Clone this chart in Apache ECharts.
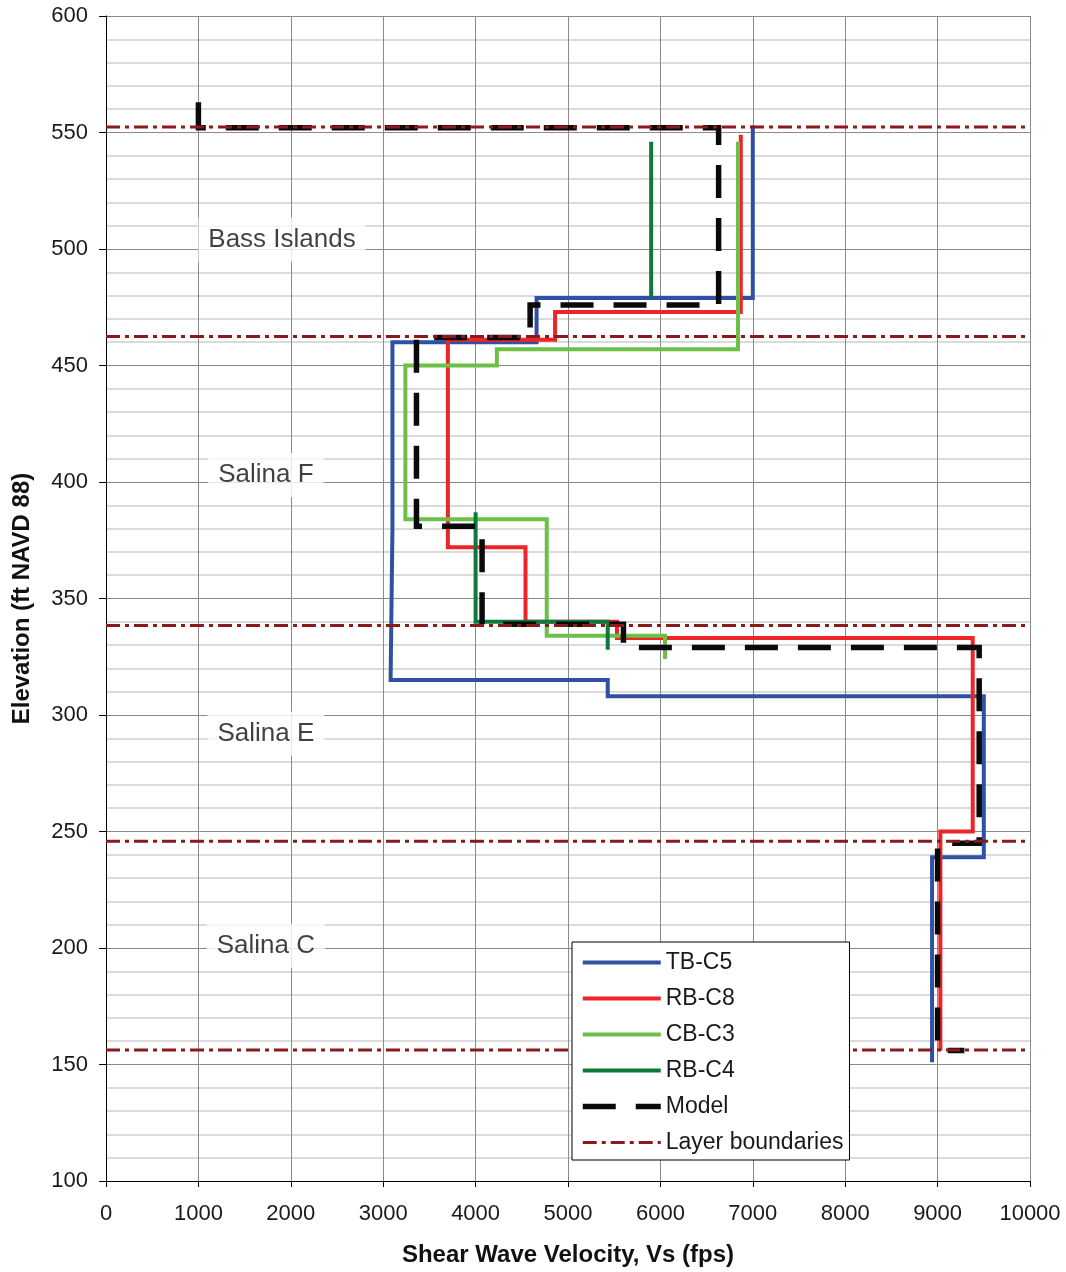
<!DOCTYPE html>
<html>
<head>
<meta charset="utf-8">
<script src="https://cdn.jsdelivr.net/npm/echarts@6/dist/echarts.min.js"></script>
<style>
  html, body { margin: 0; padding: 0; background: #fff; }
  #chart { width: 1066px; height: 1272px; }
</style>
</head>
<body>
<div id="chart"></div>
<script>
// Shear wave velocity profiles: [Vs (fps), elevation (ft NAVD 88)] vertices of each step profile
const tbC5 = [[7000,553],[7000,479],[4660,479],[4660,460],[3100,460],[3100,380],[3080,380],[3080,315],
              [5430,315],[5430,308],[9500,308],[9500,239],[8940,239],[8940,151]];
const rbC8 = [[6870,549],[6870,473],[4860,473],[4860,461],[3700,461],[3700,372],[4540,372],[4540,340],
              [5530,340],[5530,333],[9380,333],[9380,250],[9030,250],[9030,156]];
const cbC3 = [[6840,546],[6840,457],[4230,457],[4230,450],[3240,450],[3240,384],[4770,384],[4770,334],
              [6050,334],[6050,324]];
const rbC4Upper = [[5900,546],[5900,479]];
const rbC4Lower = [[4000,387],[4000,340],[5430,340],[5430,328]];
const model = [[1000,563],[1000,552],[6630,552],[6630,476],[4590,476],[4590,462],[3360,462],[3360,381],
               [4070,381],[4070,339],[5600,339],[5600,329],[9450,329],[9450,245],[9000,245],[9000,156],[9290,156]];

// Elevations of the geologic layer boundaries
const layerBoundaries = [552.4, 462.4, 338.4, 245.8, 156.2];

// Formation names and where they are written
const formations = [
  { name: 'Bass Islands', vs: 1905, elev: 504 },
  { name: 'Salina F',     vs: 1730, elev: 403 },
  { name: 'Salina E',     vs: 1730, elev: 292 },
  { name: 'Salina C',     vs: 1730, elev: 201 }
];

// Axis ranges
const xAxisRange = { min: 0, max: 10000, step: 1000 };
const yAxisRange = { min: 100, max: 600, step: 50 };

const FONT = "'Liberation Sans', Arial, sans-serif";

const styles = {
  'TB-C5':            { color: '#3050a3', width: 4,   type: 'solid' },
  'RB-C8':            { color: '#ee2528', width: 4,   type: 'solid' },
  'CB-C3':            { color: '#6cbf47', width: 4,   type: 'solid' },
  'RB-C4':            { color: '#0b7a3b', width: 4,   type: 'solid' },
  'Model':            { color: '#0a0a0a', width: 5.5, type: [33, 20] },
  'Layer boundaries': { color: '#8b1a1a', width: 3,   type: [14, 5, 4, 5] }
};
const legendOrder = ['TB-C5', 'RB-C8', 'CB-C3', 'RB-C4', 'Model', 'Layer boundaries'];

// Layer boundaries become one line series broken by gaps
const boundaryData = [];
layerBoundaries.forEach((e, i) => {
  if (i > 0) boundaryData.push('-');
  boundaryData.push([xAxisRange.min, e], [xAxisRange.max, e]);
});

function profile(name, data) {
  const s = styles[name];
  return {
    name: name,
    type: 'line',
    data: data,
    symbol: 'none',
    silent: true,
    animation: false,
    connectNulls: false,
    lineStyle: { color: s.color, width: s.width, type: s.type, cap: 'butt', join: 'miter' },
    itemStyle: { color: s.color }
  };
}

const chart = echarts.init(document.getElementById('chart'), null, { renderer: 'canvas' });

chart.setOption({
  backgroundColor: '#ffffff',
  animation: false,
  grid: { left: 106, right: 36, top: 16, bottom: 90, containLabel: false },
  legend: {
    data: legendOrder.map(n => ({
      name: n,
      lineStyle: { color: styles[n].color, width: styles[n].width, type: styles[n].type }
    })),
    orient: 'vertical',
    left: 572,
    top: 942,
    itemWidth: 78,
    itemHeight: 14,
    itemGap: 13,
    padding: [9, 6, 6, 8],
    backgroundColor: '#ffffff',
    borderColor: '#000000',
    borderWidth: 1,
    borderRadius: 0,
    selectedMode: false,
    itemStyle: { color: 'rgba(0,0,0,0)', borderWidth: 0, borderColor: 'rgba(0,0,0,0)' },
    textStyle: { fontFamily: FONT, fontSize: 23, color: '#1a1a1a', lineHeight: 22 }
  },
  xAxis: {
    type: 'value',
    min: xAxisRange.min,
    max: xAxisRange.max,
    interval: xAxisRange.step,
    name: 'Shear Wave Velocity, Vs (fps)',
    nameLocation: 'middle',
    nameGap: 62,
    nameTextStyle: { fontFamily: FONT, fontSize: 24, fontWeight: 'bold', color: '#111' },
    axisLine: { show: true, onZero: false, lineStyle: { color: '#000', width: 1 } },
    axisTick: { show: true, inside: false, length: 6, lineStyle: { color: '#000' } },
    axisLabel: { fontFamily: FONT, fontSize: 22, color: '#1a1a1a', margin: 22, formatter: v => String(v) },
    splitLine: { show: true, lineStyle: { color: '#8a8a8a', width: 1 } }
  },
  yAxis: {
    type: 'value',
    min: yAxisRange.min,
    max: yAxisRange.max,
    interval: yAxisRange.step,
    name: 'Elevation (ft NAVD 88)',
    nameLocation: 'middle',
    nameGap: 72,
    nameRotate: 90,
    nameTextStyle: { fontFamily: FONT, fontSize: 24, fontWeight: 'bold', color: '#111' },
    axisLine: { show: true, onZero: false, lineStyle: { color: '#000', width: 1 } },
    axisTick: { show: true, inside: false, length: 7, lineStyle: { color: '#000' } },
    axisLabel: { fontFamily: FONT, fontSize: 22, color: '#1a1a1a', margin: 18, formatter: v => String(v) },
    splitLine: { show: true, lineStyle: { color: '#8a8a8a', width: 1 } },
    minorTick: { show: false, splitNumber: 5 },
    minorSplitLine: { show: true, lineStyle: { color: '#cfcfcf', width: 1.5 } }
  },
  series: [
    profile('TB-C5', tbC5),
    profile('RB-C8', rbC8),
    profile('CB-C3', cbC3),
    profile('RB-C4', rbC4Upper),
    profile('RB-C4', rbC4Lower),
    profile('Model', model),
    profile('Layer boundaries', boundaryData),
    {
      name: 'formations',
      type: 'scatter',
      silent: true,
      symbolSize: 0,
      z: 5,
      data: formations.map(f => ({ name: f.name, value: [f.vs, f.elev] })),
      label: {
        show: true,
        position: 'inside',
        formatter: '{b}',
        fontFamily: FONT,
        fontSize: 26,
        color: '#111111',
        backgroundColor: '#ffffff',
        padding: [9, 10]
      }
    }
  ]
});
</script>
</body>
</html>
